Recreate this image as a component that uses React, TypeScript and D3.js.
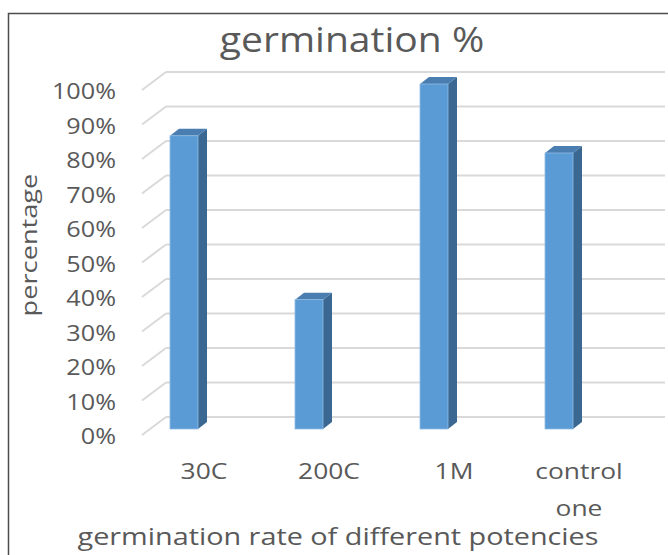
import * as d3 from "d3";

const categories = ["30C", "200C", "1M", "control one"];
const germination = [0.85, 0.375, 1.0, 0.8];
const yTicks = [0, 0.1, 0.2, 0.3, 0.4, 0.5, 0.6, 0.7, 0.8, 0.9, 1.0];

const W = 668;
const H = 555;
const TEXT = "#595959";
const GRID = "#d9d9d9";
const FONT = "'Open Sans', 'Noto Sans', sans-serif";
const SX = 1.2; // the reference text is stretched sideways

// 3D depth of the plot box and of each column
const depthX = 24;
const depthY = 18;
const barDX = 9;
const barDY = 7;

const App = () => {
  // back wall and front edge of the floor
  const yBack = d3.scaleLinear().domain([0, 1]).range([417, 72]);
  const yFront = d3.scaleLinear().domain([0, 1]).range([435, 90]);
  // front face of the columns sits a third into the depth
  const yBar = d3.scaleLinear().domain([0, 1]).range([429, 84]);

  const xScale = d3
    .scaleBand()
    .domain(categories)
    .range([121.5, 621.5])
    .paddingInner(0.776)
    .paddingOuter(0.388);
  const bw = xScale.bandwidth();

  const wallLeft = 142 + depthX;
  const wallRight = 665;
  const fmt = d3.format(".0%");

  return (
    <svg
      width={W}
      height={H}
      style={{ position: "absolute", left: 0, top: 0, background: "#fff" }}
    >
      <rect x={8.5} y={13.5} width={W + 10} height={H + 10} fill="#fff" stroke="#4d4d4d" strokeWidth={1.5} />

      {/* title */}
      <text
        transform={`translate(352,52) scale(${SX * 0.93},1)`}
        textAnchor="middle"
        fontFamily={FONT}
        fontSize={35}
        fill={TEXT}
      >
        germination %
      </text>

      {/* gridlines: back wall + left floor diagonal */}
      <g stroke={GRID} strokeWidth={2} fill="none">
        {yTicks.map((t) => (
          <g key={t}>
            <line x1={wallLeft} x2={wallRight} y1={yBack(t)} y2={yBack(t)} />
            <line x1={wallLeft - depthX} y1={yFront(t)} x2={wallLeft} y2={yBack(t)} />
          </g>
        ))}
      </g>

      {/* y tick labels */}
      <g fontFamily={FONT} fontSize={21} fill={TEXT} textAnchor="end">
        {yTicks.map((t) => (
          <text key={t} transform={`translate(116,${yFront(t) + 9}) scale(${SX},1)`}>
            {fmt(t)}
          </text>
        ))}
      </g>

      {/* columns */}
      {categories.map((c, i) => {
        const x = xScale(c) as number;
        const y0 = yBar(0);
        const yv = yBar(germination[i]);
        return (
          <g key={c}>
            <path
              d={`M${x + bw},${yv} L${x + bw + barDX},${yv - barDY} L${x + bw + barDX},${y0 - barDY} L${x + bw},${y0} Z`}
              fill="#3a6892"
            />
            <path
              d={`M${x},${yv} L${x + barDX},${yv - barDY} L${x + bw + barDX},${yv - barDY} L${x + bw},${yv} Z`}
              fill="#4a7db0"
            />
            <rect x={x} y={yv} width={bw} height={y0 - yv} fill="#5b9bd5" stroke="#8fbbe3" strokeWidth={0.8} />
          </g>
        );
      })}

      {/* x category labels */}
      <g fontFamily={FONT} fontSize={22} fill={TEXT} textAnchor="middle">
        {categories.map((c) => {
          const cx = (xScale(c) as number) + bw / 2 + 20;
          return c.split(" ").map((line, j) => (
            <text key={c + j} transform={`translate(${cx},${479 + j * 37}) scale(${SX},1)`}>
              {line}
            </text>
          ));
        })}
      </g>

      {/* axis titles */}
      <text
        transform={`translate(338,545) scale(${SX},1)`}
        textAnchor="middle"
        fontFamily={FONT}
        fontSize={24}
        fill={TEXT}
      >
        germination rate of different potencies
      </text>
      <text
        transform={`translate(37,245) rotate(-90) scale(${SX * 1.03},1)`}
        textAnchor="middle"
        fontFamily={FONT}
        fontSize={22}
        fill={TEXT}
      >
        percentage
      </text>
    </svg>
  );
};

export default App;
